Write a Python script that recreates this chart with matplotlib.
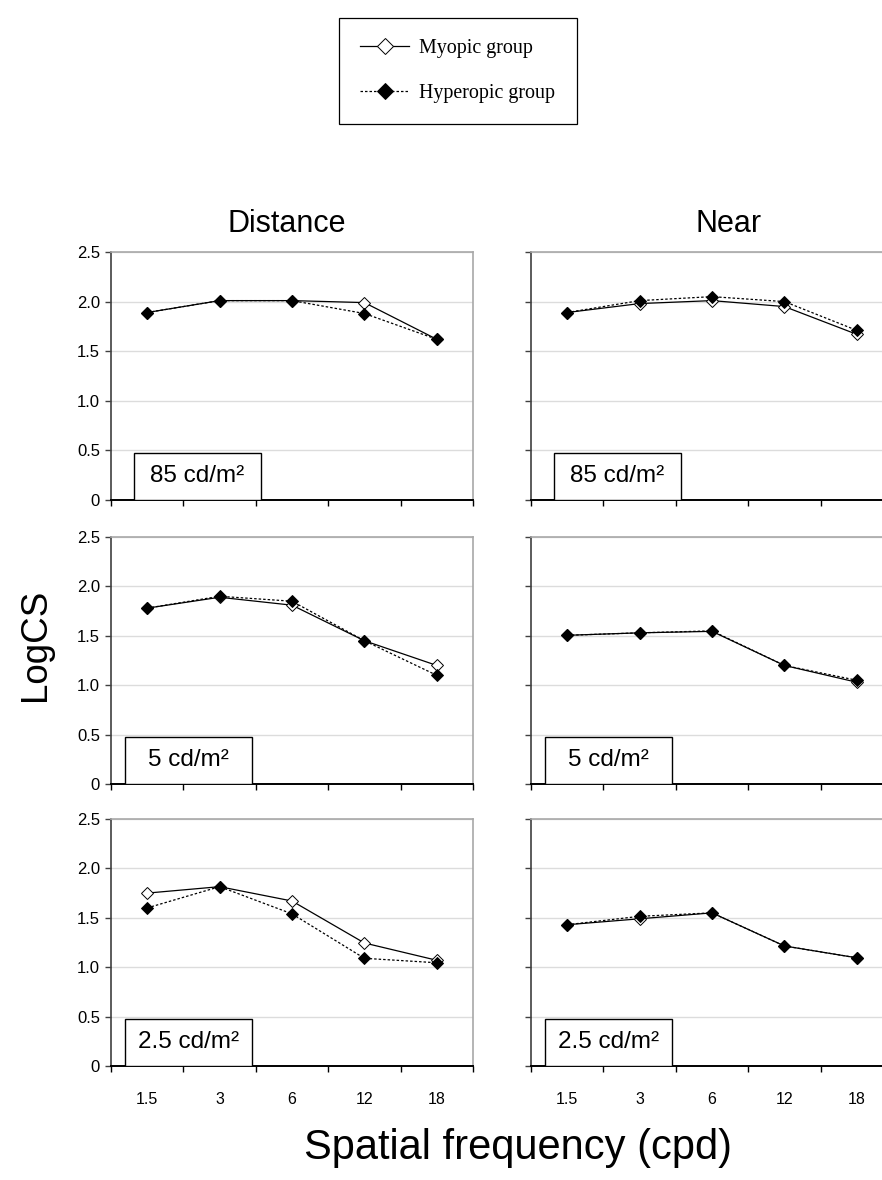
import matplotlib
matplotlib.use("Agg")
import matplotlib.pyplot as plt
from matplotlib.patches import Rectangle

# ---------------- data ----------------
freq_labels = ["1.5", "3", "6", "12", "18"]
y_ticks = [0, 0.5, 1.0, 1.5, 2.0, 2.5]
y_tick_labels = ["0", "0.5", "1.0", "1.5", "2.0", "2.5"]
columns = ["Distance", "Near"]
luminances = ["85 cd/m²", "5 cd/m²", "2.5 cd/m²"]
series_names = ["Myopic group", "Hyperopic group"]

# Distance
dist_85_myopic = [1.89, 2.01, 2.01, 1.99, 1.62]
dist_85_hyper = [1.89, 2.01, 2.01, 1.88, 1.62]
dist_5_myopic = [1.78, 1.89, 1.81, 1.45, 1.20]
dist_5_hyper = [1.78, 1.90, 1.85, 1.45, 1.10]
dist_25_myopic = [1.75, 1.815, 1.67, 1.245, 1.07]
dist_25_hyper = [1.60, 1.815, 1.54, 1.09, 1.045]
# Near
near_85_myopic = [1.89, 1.98, 2.01, 1.95, 1.67]
near_85_hyper = [1.89, 2.01, 2.05, 2.00, 1.71]
near_5_myopic = [1.505, 1.53, 1.545, 1.20, 1.03]
near_5_hyper = [1.505, 1.53, 1.55, 1.20, 1.05]
near_25_myopic = [1.43, 1.49, 1.55, 1.215, 1.095]
near_25_hyper = [1.43, 1.515, 1.55, 1.215, 1.095]

panels = [
    [(dist_85_myopic, dist_85_hyper), (near_85_myopic, near_85_hyper)],
    [(dist_5_myopic, dist_5_hyper), (near_5_myopic, near_5_hyper)],
    [(dist_25_myopic, dist_25_hyper), (near_25_myopic, near_25_hyper)],
]

# ---------------- layout ----------------
W, H = 882, 1180
fig = plt.figure(figsize=(W / 100, H / 100), dpi=100)
plt.rcParams['font.family'] = ['Liberation Sans', 'DejaVu Sans']

col_left_px = [111, 531]
ax_w_px = 362
row_top_px = [252, 537, 819]
ax_h_px = [248, 247, 247]
box_x_px = [[23, 23], [14, 14], [14, 14]]

x = list(range(len(freq_labels)))
handles = None
for r in range(3):
    for c in range(2):
        left = col_left_px[c] / W
        bottom = 1 - (row_top_px[r] + ax_h_px[r]) / H
        ax = fig.add_axes([left, bottom, ax_w_px / W, ax_h_px[r] / H])
        my, hy = panels[r][c]
        l1, = ax.plot(x, my, color='black', lw=0.9, marker='D', ms=5.8,
                      mfc='white', mec='black', mew=0.7, zorder=3)
        l2, = ax.plot(x, hy, color='black', lw=0.9, ls=(0, (2.0, 1.6)),
                      marker='D', ms=5.8, mfc='black', mec='black', mew=0.7,
                      zorder=4)
        if handles is None:
            handles = [l1, l2]
        ax.set_xlim(-0.5, len(freq_labels) - 0.5)
        ax.set_ylim(0, 2.5)
        ax.set_yticks(y_ticks)
        ax.yaxis.grid(True, color='#dcdcdc', lw=1.0)
        ax.set_axisbelow(True)
        # category boundaries as major ticks, labels at centers
        ax.set_xticks([i - 0.5 for i in range(len(freq_labels) + 1)])
        ax.set_xticklabels([])
        ax.set_xticks(x, minor=True)
        ax.tick_params(axis='x', which='major', direction='out', length=4,
                       width=1, color='black')
        ax.tick_params(axis='x', which='minor', length=0, pad=19,
                       labelsize=11.5)
        if r == 2:
            ax.set_xticklabels(freq_labels, minor=True)
        else:
            ax.set_xticklabels([], minor=True)
        ax.tick_params(axis='y', direction='out', length=4, width=1,
                       color='#404040', pad=4, labelsize=12)
        if c == 0:
            ax.set_yticklabels(y_tick_labels)
        else:
            ax.set_yticklabels([])
        ax.spines['left'].set_color('#404040')
        ax.spines['left'].set_linewidth(1.2)
        ax.spines['bottom'].set_color('black')
        ax.spines['bottom'].set_linewidth(1.4)
        ax.spines['top'].set_color('#a8a8a8')
        ax.spines['top'].set_linewidth(1.2)
        ax.spines['right'].set_color('#a8a8a8')
        ax.spines['right'].set_linewidth(1.2)
        # luminance label box
        bx = box_x_px[r][c] / ax_w_px
        bw = 127 / ax_w_px
        bh = 47 / ax_h_px[r]
        ax.add_patch(Rectangle((bx, 0), bw, bh, transform=ax.transAxes,
                               facecolor='white', edgecolor='black', lw=1.0,
                               zorder=5))
        ax.text(bx + bw / 2, bh / 2, luminances[r], transform=ax.transAxes,
                ha='center', va='center', fontsize=17.5, zorder=6)

# column titles
fig.text(287 / W, 1 - 224 / H, columns[0], ha='center', va='center',
         fontsize=22)
fig.text(729 / W, 1 - 224 / H, columns[1], ha='center', va='center',
         fontsize=22)
# axis titles
fig.text(35 / W, 1 - 645 / H, "LogCS", rotation=90, ha='center',
         va='center', fontsize=26.5)
fig.text(518 / W, 1 - 1148 / H, "Spatial frequency (cpd)", ha='center',
         va='center', fontsize=30)

# legend
leg = fig.legend(handles, series_names, loc='center',
                 bbox_to_anchor=(458 / W, 1 - 71 / H),
                 prop={'family': 'Liberation Serif', 'size': 14.4},
                 frameon=True, fancybox=False, edgecolor='black',
                 framealpha=1, handlelength=2.45, handletextpad=0.5,
                 labelspacing=1.3, borderpad=1.05, borderaxespad=0,
                 markerscale=1.4)
leg.get_frame().set_linewidth(0.9)

fig.savefig("out.png", dpi=100)
